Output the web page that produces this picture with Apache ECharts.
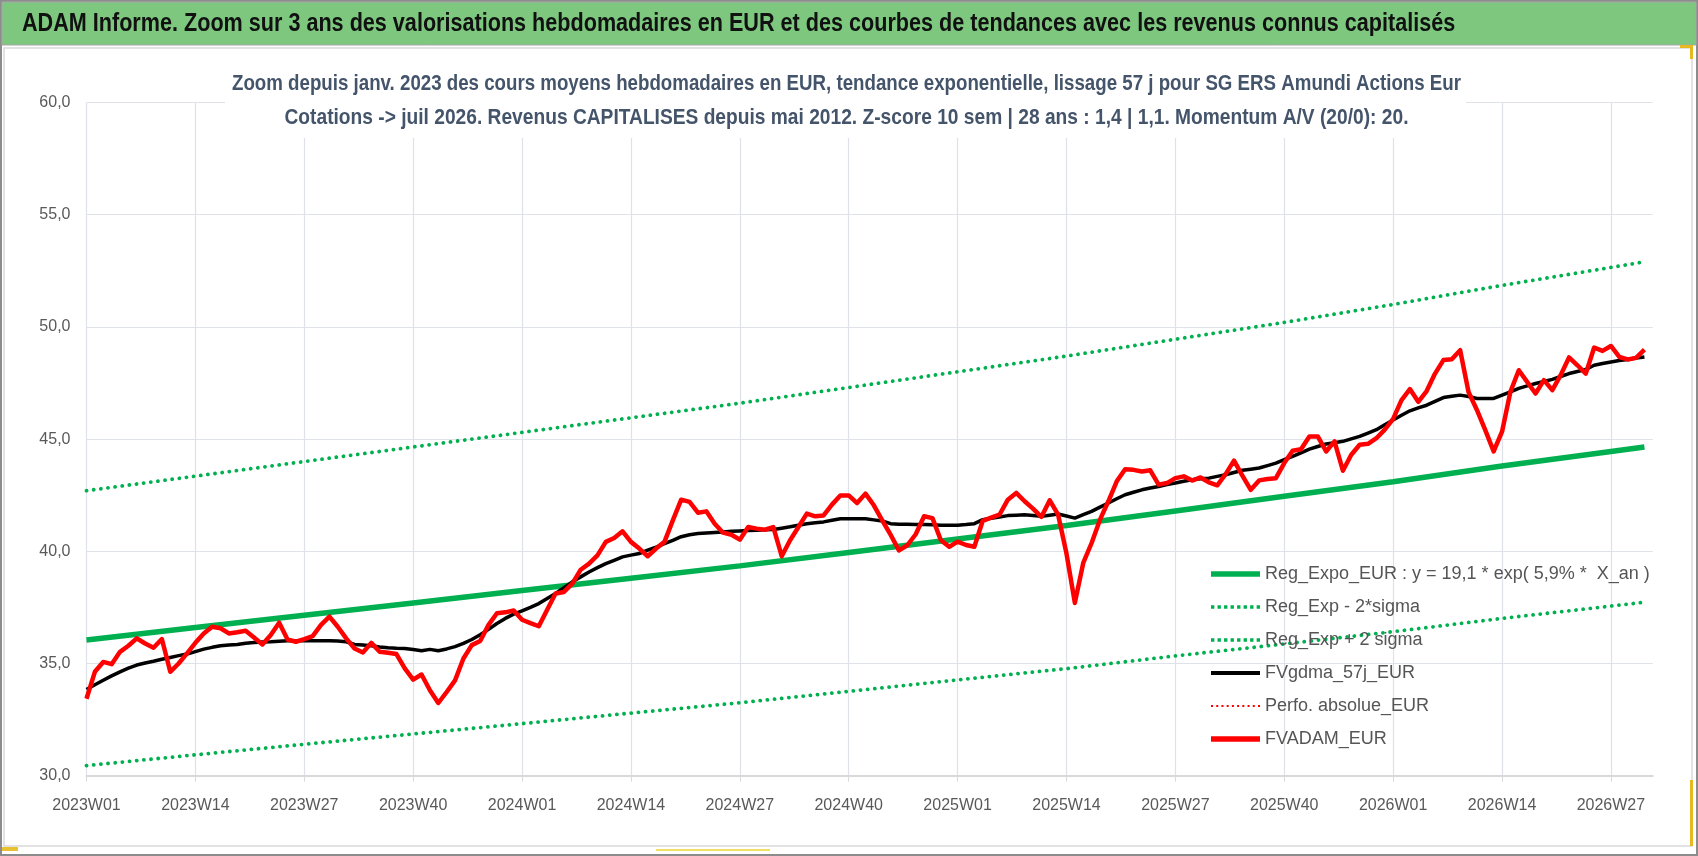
<!DOCTYPE html>
<html>
<head>
<meta charset="utf-8">
<script src="https://cdn.jsdelivr.net/npm/echarts@6/dist/echarts.min.js"></script>
<style>
html,body{margin:0;padding:0;background:#fff;}
#chart{width:1698px;height:856px;}
</style>
</head>
<body>
<div id="chart"></div>
<script>
// ---- Categories (ISO weeks) ----
const years = [2023, 2024, 2025, 2026];
const weeksInYear = [52, 52, 52, 32];
const categories = [];
years.forEach((y, k) => { for (let w = 1; w <= weeksInYear[k]; w++) categories.push(y + 'W' + (w < 10 ? '0' + w : w)); });

// ---- FVADAM_EUR (weekly) ----
const fvadam = [
33.43,34.63,35.07,34.97,35.52,35.79,36.12,35.89,35.70,36.09,34.63,35.00,35.45,35.92,36.34,36.64,36.57,36.34,36.39,36.46,
36.16,35.85,36.27,36.82,36.07,35.97,36.09,36.22,36.72,37.09,36.64,36.12,35.67,35.49,35.92,35.52,35.48,35.42,34.78,34.28,
34.51,33.81,33.24,33.73,34.25,35.22,35.82,36.00,36.72,37.24,37.28,37.36,36.95,36.80,36.66,37.40,38.12,38.19,38.56,39.18,
39.45,39.82,40.42,40.59,40.89,40.42,40.12,39.78,40.12,40.42,41.38,42.30,42.20,41.72,41.78,41.23,40.83,40.74,40.52,41.08,
41.01,40.96,41.08,39.78,40.49,41.08,41.68,41.56,41.60,42.08,42.49,42.49,42.15,42.57,42.05,41.38,40.74,40.04,40.27,40.76,
41.56,41.48,40.49,40.20,40.43,40.28,40.20,41.36,41.50,41.63,42.30,42.60,42.23,41.90,41.53,42.27,41.63,39.90,37.70,39.48,
40.37,41.41,42.23,43.12,43.66,43.63,43.56,43.61,42.97,43.04,43.26,43.34,43.15,43.29,43.07,42.94,43.44,44.04,43.37,42.74,
43.16,43.22,43.26,43.93,44.48,44.55,45.12,45.12,44.45,44.90,43.59,44.30,44.75,44.79,45.04,45.42,45.90,46.74,47.23,46.66,
47.14,47.92,48.52,48.56,48.96,47.10,46.30,45.40,44.45,45.33,47.11,48.07,47.55,47.03,47.63,47.18,47.85,48.64,48.29,47.92,
49.08,48.93,49.15,48.66,48.55,48.62,48.99
];

// ---- FVgdma_57j_EUR (weekly) ----
const fvgdma = [
33.84,34.05,34.25,34.45,34.63,34.79,34.93,35.02,35.10,35.19,35.27,35.35,35.42,35.53,35.64,35.72,35.79,35.82,35.85,35.90,
35.94,35.96,35.97,35.99,36.01,36.01,36.01,36.01,36.01,36.01,36.00,35.97,35.85,35.82,35.79,35.74,35.70,35.68,35.67,35.62,
35.57,35.63,35.57,35.65,35.75,35.90,36.07,36.28,36.52,36.78,37.01,37.20,37.35,37.50,37.67,37.90,38.12,38.38,38.64,38.86,
39.08,39.27,39.45,39.60,39.75,39.83,39.90,40.05,40.19,40.34,40.49,40.65,40.74,40.79,40.82,40.84,40.86,40.89,40.91,40.93,
40.94,40.96,40.97,41.03,41.09,41.16,41.23,41.27,41.31,41.38,41.45,41.45,41.45,41.45,41.40,41.35,41.23,41.21,41.20,41.19,
41.19,41.18,41.16,41.16,41.16,41.19,41.23,41.41,41.47,41.53,41.59,41.61,41.63,41.60,41.56,41.61,41.66,41.57,41.48,41.63,
41.78,41.97,42.15,42.34,42.52,42.63,42.74,42.82,42.89,42.97,43.04,43.12,43.19,43.23,43.26,43.34,43.41,43.51,43.61,43.66,
43.71,43.82,43.93,44.08,44.23,44.39,44.55,44.67,44.78,44.84,44.90,45.01,45.12,45.27,45.42,45.64,45.85,46.06,46.26,46.39,
46.51,46.68,46.85,46.91,46.96,46.90,46.81,46.81,46.81,46.96,47.11,47.26,47.37,47.48,47.57,47.66,47.79,47.92,48.01,48.10,
48.29,48.37,48.44,48.50,48.55,48.61,48.66
];

// ---- Trend curves, read at the labelled weeks ----
const trendWeekIdx = [0, 13, 26, 39, 52, 65, 78, 91, 104, 117, 130, 143, 156, 169, 182, 186];
const regExpo      = [36.05,36.60,37.15,37.70,38.25,38.80,39.35,39.95,40.55,41.15,41.80,42.45,43.10,43.80,44.45,44.65];
const regPlus2s    = [42.70,43.35,44.00,44.65,45.30,45.95,46.60,47.30,48.00,48.70,49.45,50.20,51.00,51.85,52.65,52.90];
const regMinus2s   = [30.45,30.93,31.40,31.86,32.32,32.79,33.25,33.76,34.27,34.77,35.34,35.87,36.42,37.01,37.56,37.73];

// ---- Tick labels ----
const yTickValues = [30, 35, 40, 45, 50, 55, 60];

function sparse(vals) {
  const arr = new Array(categories.length).fill(null);
  trendWeekIdx.forEach((ix, k) => { arr[ix] = vals[k]; });
  return arr;
}

const FONT = "'Liberation Sans', 'Roboto', sans-serif";
const chart = echarts.init(document.getElementById('chart'), null, {renderer: 'canvas'});

const dotted = {color: '#00B050', width: 3.8, type: [0.1, 7.1], cap: 'round'};

function dotsPath(n, size, step) {
  let p = 'path://';
  for (let i = 0; i < n; i++) { const x = (i * step).toFixed(2); p += 'M' + x + ',0h' + size + 'v' + size + 'h-' + size + 'z'; }
  return p;
}

const names = ['Reg_Expo_EUR : y = 19,1 * exp( 5,9% *  X_an )', 'Reg_Exp - 2*sigma', 'Reg_Exp + 2 sigma', 'FVgdma_57j_EUR', 'Perfo. absolue_EUR', 'FVADAM_EUR'];

chart.setOption({
  animation: false,
  backgroundColor: '#ffffff',
  graphic: [
    {type: 'rect', z: 100, shape: {x: 1, y: 1, width: 1696, height: 854}, style: {fill: 'none', stroke: '#8c8c8c', lineWidth: 2}},
    {type: 'rect', z: 100, shape: {x: 2, y: 2, width: 1694, height: 43}, style: {fill: '#7DC87E', stroke: '#a8a8a8', lineWidth: 1}},
    {type: 'rect', z: 100, shape: {x: 4, y: 48, width: 1688, height: 798}, style: {fill: 'none', stroke: '#d9d9d9', lineWidth: 1.5}},
    {type: 'rect', z: 100, shape: {x: 1680, y: 45, width: 13, height: 3}, style: {fill: '#E8B820'}},
    {type: 'rect', z: 100, shape: {x: 1690, y: 45, width: 3, height: 14}, style: {fill: '#E8B820'}},
    {type: 'rect', z: 100, shape: {x: 2, y: 847, width: 16, height: 4}, style: {fill: '#E8C030'}},
    {type: 'rect', z: 100, shape: {x: 656, y: 849, width: 114, height: 2}, style: {fill: '#F2E060'}},
    {type: 'rect', z: 100, shape: {x: 1690, y: 780, width: 3, height: 66}, style: {fill: '#E8B820'}},
    {type: 'rect', z: 100, shape: {x: 225, y: 55, width: 1241, height: 83}, style: {fill: '#ffffff'}},
    {type: 'text', z: 101, x: 22, y: 24, scaleX: 0.864, style: {text: 'ADAM Informe. Zoom sur 3 ans des valorisations hebdomadaires en EUR et des courbes de tendances avec les revenus connus capitalisés', font: "bold 25px " + FONT, fill: '#111111', textVerticalAlign: 'middle'}},
    {type: 'text', z: 101, x: 846.5, y: 84, scaleX: 0.85, style: {text: 'Zoom depuis janv. 2023 des cours moyens hebdomadaires en EUR, tendance exponentielle, lissage 57 j pour SG ERS Amundi Actions Eur', font: "bold 22px " + FONT, fill: '#44546A', textAlign: 'center', textVerticalAlign: 'middle'}},
    {type: 'text', z: 101, x: 846.5, y: 118, scaleX: 0.872, style: {text: 'Cotations -> juil 2026. Revenus CAPITALISES depuis mai 2012. Z-score 10 sem | 28 ans : 1,4 | 1,1. Momentum A/V (20/0): 20.', font: "bold 22px " + FONT, fill: '#44546A', textAlign: 'center', textVerticalAlign: 'middle'}}
  ],
  grid: {left: 86.5, right: 45.2, top: 102.5, bottom: 80.3, containLabel: false},
  legend: {
    orient: 'vertical', left: 1206, top: 560, itemWidth: 49, itemHeight: 18, itemGap: 15,
    textStyle: {fontSize: 18, lineHeight: 18, color: '#555555', fontFamily: FONT},
    data: [
      {name: names[0], icon: 'path://M0,0H49V5.5H0Z'},
      {name: names[1], icon: dotsPath(8, 3.4, 6.6)},
      {name: names[2], icon: dotsPath(8, 3.4, 6.6)},
      {name: names[3], icon: 'path://M0,0H49V4H0Z'},
      {name: names[4], icon: dotsPath(10, 2, 5.2)},
      {name: names[5], icon: 'path://M0,0H49V5.5H0Z'}
    ]
  },
  xAxis: {
    type: 'category', data: categories, boundaryGap: false,
    axisLine: {show: true, lineStyle: {color: '#d9d9d9', width: 2}},
    axisTick: {show: true, interval: 12, length: 6, lineStyle: {color: '#d9d9d9'}},
    axisLabel: {interval: 12, margin: 22, color: '#595959', fontSize: 16, fontFamily: FONT},
    splitLine: {show: true, interval: 12, lineStyle: {color: '#dfe2e8', width: 1.2}}
  },
  yAxis: {
    type: 'value', min: yTickValues[0], max: yTickValues[yTickValues.length - 1], interval: 5,
    axisLine: {show: false}, axisTick: {show: false},
    axisLabel: {margin: 16, color: '#595959', fontSize: 16, fontFamily: FONT, formatter: v => v.toFixed(1).replace('.', ',')},
    splitLine: {show: true, lineStyle: {color: '#dfe2e8', width: 1.2}}
  },
  series: [
    {name: names[0], type: 'line', data: sparse(regExpo), connectNulls: true, symbol: 'none', lineStyle: {color: '#00B050', width: 5.5}, itemStyle: {color: '#00B050'}, z: 2},
    {name: names[1], type: 'line', data: sparse(regMinus2s), connectNulls: true, symbol: 'none', lineStyle: dotted, itemStyle: {color: '#00B050'}, z: 2},
    {name: names[2], type: 'line', data: sparse(regPlus2s), connectNulls: true, symbol: 'none', lineStyle: dotted, itemStyle: {color: '#00B050'}, z: 2},
    {name: names[3], type: 'line', data: fvgdma, symbol: 'none', lineStyle: {color: '#000000', width: 3.5}, itemStyle: {color: '#000000'}, z: 3},
    {name: names[4], type: 'line', data: [], symbol: 'none', lineStyle: {color: '#FF0000', width: 2, type: [0.1, 5], cap: 'round'}, itemStyle: {color: '#FF0000'}, z: 3},
    {name: names[5], type: 'line', data: fvadam, symbol: 'none', lineStyle: {color: '#FF0000', width: 4.5, join: 'round'}, itemStyle: {color: '#FF0000'}, z: 4}
  ]
});
</script>
</body>
</html>
